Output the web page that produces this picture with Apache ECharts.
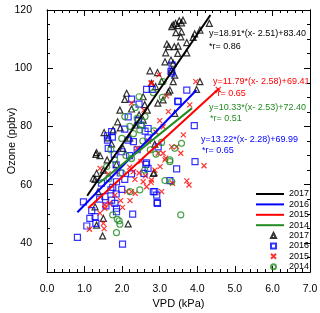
<!DOCTYPE html>
<html><head><meta charset="utf-8">
<script src="https://cdn.jsdelivr.net/npm/echarts@6/dist/echarts.min.js"></script>
<style>html,body{margin:0;padding:0;background:#fff}#c{width:320px;height:313px}</style>
</head><body><div id="c"></div><script>
const FONT = 'Liberation Sans, Arial, Helvetica, sans-serif';
const years = ['2017', '2016', '2015', '2014'];
const yearColors = ['#000000', '#0000ff', '#ff0000', '#228b22'];

// scatter observations [VPD kPa, Ozone ppbv]
const pts2017 = [[3.52,116.3],[3.42,115.4],[3.58,115.6],[3.32,114.3],[3.48,114.6],[3.36,114.9],[3.62,116.5],[3.43,112.2],[3.58,112.5],[3.56,110.8],[3.19,108.3],[3.24,107.4],[3.39,107.4],[3.49,107.6],[3.16,105.3],[3.48,105.1],[3.93,111.8],[3.89,110.6],[4.32,115.4],[4.07,113.1],[3.72,108.8],[3.72,105.3],[3.30,102.8],[3.14,102.2],[3.36,101.7],[2.74,99.1],[2.94,98.5],[3.32,99.4],[3.40,97.6],[3.36,95.4],[3.23,91.9],[2.89,93.7],[4.07,95.4],[3.98,92.7],[3.27,92.5],[2.12,91.4],[2.07,89.3],[1.94,85.6],[2.56,90.2],[2.78,94.8],[2.67,85.6],[3.40,84.5],[3.09,89.1],[1.52,77.9],[1.76,78.8],[1.88,81.6],[1.63,76.1],[1.32,71.0],[1.41,70.0],[1.72,74.0],[1.30,70.4],[2.56,82.2],[2.87,73.9],[2.83,63.9],[1.32,63.9],[1.23,62.2],[1.50,65.0],[1.28,61.8],[1.36,57.6],[1.28,52.4],[1.32,46.1],[1.48,42.4],[2.16,46.5],[2.85,64.1],[1.50,48.4],[2.20,76.0],[2.35,80.5],[2.45,84.0],[2.60,87.5],[2.02,72.5],[1.85,67.0],[1.60,68.5],[2.95,88.0],[3.05,95.5],[1.95,79.5],[2.25,86.0]];
const pts2016 = [[0.97,54.1],[0.81,41.9],[1.06,45.8],[1.19,51.1],[1.14,48.4],[1.28,49.0],[1.30,46.7],[1.57,52.7],[1.72,54.7],[1.81,53.6],[1.85,51.9],[1.85,50.7],[2.28,49.9],[2.01,39.6],[1.54,55.9],[1.84,56.8],[1.99,58.4],[2.07,61.8],[2.25,63.7],[2.58,63.9],[2.65,67.5],[2.87,57.6],[2.93,53.8],[1.75,59.1],[1.84,66.8],[1.72,78.2],[1.63,72.5],[1.79,70.4],[2.07,79.1],[2.16,75.3],[1.99,71.3],[2.30,74.8],[2.61,78.4],[2.69,65.6],[1.70,58.2],[1.85,61.0],[1.61,76.8],[2.43,82.2],[3.48,88.7],[3.92,80.3],[2.69,79.3],[2.69,76.1],[2.96,73.0],[3.94,67.9],[3.45,65.4],[2.63,67.0],[3.27,61.4],[2.83,57.6],[2.92,56.4],[2.94,53.6],[3.30,98.8],[3.72,92.5],[2.65,92.7],[2.80,92.7],[3.33,101.1],[3.32,98.3],[3.49,88.5],[2.25,89.4],[2.45,87.7],[2.16,83.3],[1.74,76.3],[1.61,75.3],[2.20,70.0],[2.40,72.0],[2.50,80.5],[1.95,64.0],[1.45,60.5],[1.40,55.0]];
const pts2015 = [[1.13,44.7],[1.41,50.2],[1.50,46.7],[1.52,44.9],[1.54,53.0],[2.01,52.2],[2.21,54.5],[1.96,54.5],[2.12,57.6],[1.66,53.6],[1.81,56.4],[1.54,51.9],[2.25,57.6],[2.56,61.0],[2.65,59.3],[2.78,61.6],[2.87,65.0],[2.34,61.8],[2.30,64.5],[1.85,64.5],[1.63,63.7],[1.41,65.6],[3.23,85.1],[3.80,87.4],[4.18,66.5],[3.32,73.0],[3.45,73.0],[3.63,77.1],[3.09,79.9],[2.96,70.8],[3.14,68.5],[3.01,66.2],[3.72,61.3],[3.78,59.9],[2.77,60.8],[3.09,70.8],[3.56,70.8],[3.34,60.5],[3.16,69.1],[3.05,57.6],[4.56,92.7],[3.96,95.4],[2.98,97.7],[2.77,94.8],[3.18,90.5],[2.78,95.0],[2.25,88.0],[2.58,85.6],[2.40,72.5],[2.50,68.0],[2.70,75.0],[2.90,78.0],[2.20,66.0],[2.45,64.0],[3.00,82.0],[2.35,57.0],[2.62,63.0]];
const pts2014 = [[1.75,49.6],[1.87,48.1],[1.92,47.6],[1.94,46.4],[1.85,43.5],[2.21,57.6],[2.47,58.2],[3.14,61.4],[3.56,49.6],[3.27,67.9],[3.58,74.2],[3.27,68.5],[3.32,61.0],[2.47,78.8],[1.99,75.9],[1.59,66.2],[2.61,83.4],[2.07,83.4],[2.83,91.6],[3.09,95.4],[3.07,90.0],[2.45,90.2],[2.40,82.8],[2.20,80.0],[2.30,77.5],[2.55,75.0],[2.75,72.0],[2.10,70.0],[1.80,68.5],[1.65,62.0],[2.60,65.0],[2.90,70.5],[3.05,74.5],[2.35,86.5],[2.52,80.5],[1.70,72.0],[2.85,78.5],[3.40,72.5],[2.00,64.0],[2.25,69.0]];

// fitted line end points
const fit2017 = [[1.07,56.2],[4.35,118.3]];
const fit2016 = [[0.81,50.5],[3.98,92.5]];
const fit2015 = [[1.10,52.0],[4.58,93.0]];
const fit2014 = [[1.38,60.5],[3.86,86.3]];

const fitTexts = [
  ['y=18.91*(x- 2.51)+83.40', '*r= 0.86'],
  ['y=13.22*(x- 2.28)+69.99', '*r= 0.65'],
  ['y=11.79*(x- 2.58)+69.41', '*r= 0.65'],
  ['y=10.33*(x- 2.53)+72.40', '*r= 0.51']
];
const yMajor = [40, 60, 80, 100, 120];
const yMinor = [30,35,40,45,50,55,60,65,70,75,80,85,90,95,100,105,110,115,120];

const pts = [pts2017, pts2016, pts2015, pts2014];
const fits = [fit2017, fit2016, fit2015, fit2014];
const symbols = ['triangle', 'rect', 'path://M0,0L10,10M10,0L0,10', 'circle'];
const symSizes = [6, 6, 5, 6];

const chart = echarts.init(document.getElementById('c'), null, {renderer: 'canvas'});

const axisLine = {show: true, onZero: false, lineStyle: {color: '#000', width: 1}};
function xAx(pos, showLabel) {
  return {
    type: 'value', position: pos, min: 0, max: 7, interval: 1,
    axisLine: axisLine,
    axisTick: {show: true, inside: true, length: 6, lineStyle: {color: '#000'}},
    minorTick: {show: true, splitNumber: 5, length: 3, lineStyle: {color: '#000'}},
    splitLine: {show: false}, minorSplitLine: {show: false},
    axisLabel: {show: showLabel, formatter: v => v.toFixed(1), margin: 12, color: '#000', fontSize: 10.5, fontFamily: FONT},
    name: showLabel ? 'VPD (kPa)' : '', nameLocation: 'middle', nameGap: 26, nameMoveOverlap: false,
    nameTextStyle: {color: '#000', fontSize: 11, fontFamily: FONT}
  };
}
function yAx(pos, major, showLabel) {
  return {
    type: 'value', position: pos, min: 30, max: 120, interval: 5,
    axisLine: axisLine,
    axisTick: {show: true, inside: true, length: major ? 6 : 3, customValues: major ? yMajor : yMinor, lineStyle: {color: '#000'}},
    splitLine: {show: false},
    axisLabel: {show: showLabel, customValues: yMajor, margin: 15, color: '#000', fontSize: 10.5, fontFamily: FONT},
    name: showLabel ? 'Ozone (ppbv)' : '', nameLocation: 'middle', nameGap: 30, nameMoveOverlap: false,
    nameTextStyle: {color: '#000', fontSize: 11, fontFamily: FONT}
  };
}

const series = [];
years.forEach((y, i) => {
  series.push({
    name: 'S' + y, type: 'scatter', data: pts[i], symbol: symbols[i], symbolSize: symSizes[i],
    xAxisIndex: 0, yAxisIndex: 0, z: 2,
    itemStyle: {color: i === 2 ? yearColors[i] : 'transparent', borderColor: yearColors[i], borderWidth: 1.2},
    emphasis: {disabled: true}
  });
});
years.forEach((y, i) => {
  series.push({
    name: 'L' + y, type: 'line', data: fits[i], symbol: 'none', z: 3,
    xAxisIndex: 0, yAxisIndex: 0,
    lineStyle: {color: yearColors[i], width: 2},
    itemStyle: {color: yearColors[i]},
    emphasis: {disabled: true}
  });
});

const textPos = [[209, 34, 209, 47], [201, 140, 202, 151], [213, 82, 214, 94], [209, 108, 210, 119]];
const graphics = [];
fitTexts.forEach((t, i) => {
  const p = textPos[i];
  graphics.push({type: 'text', x: p[0], y: p[1], style: {text: t[0], fill: yearColors[i], font: '9px ' + FONT, textVerticalAlign: 'middle'}});
  graphics.push({type: 'text', x: p[2], y: p[3], style: {text: t[1], fill: yearColors[i], font: '9px ' + FONT, textVerticalAlign: 'middle'}});
});

const legendText = {color: '#000', fontSize: 9, fontFamily: FONT, lineHeight: 10};
chart.setOption({
  animation: false,
  grid: {left: 47, right: 10, top: 10, bottom: 41, containLabel: false, outerBoundsMode: 'none'},
  xAxis: [xAx('bottom', true), xAx('top', false)],
  yAxis: [yAx('left', true, true), yAx('left', false, false), yAx('right', true, false), yAx('right', false, false)],
  legend: [{
    orient: 'vertical', left: 256, top: 189, padding: 0, itemWidth: 28, itemHeight: 2, itemGap: 0.4,
    icon: 'rect',
    data: years.map(y => 'L' + y),
    formatter: n => n.slice(1),
    textStyle: legendText,
    selectedMode: false
  }, {
    orient: 'vertical', left: 270, top: 230.5, padding: 0, itemWidth: 5, itemHeight: 5, itemGap: 0.4,
    data: years.map(y => 'S' + y),
    formatter: n => n.slice(1),
    textStyle: Object.assign({padding: [0, 0, 0, 8]}, legendText),
    selectedMode: false
  }],
  graphic: graphics,
  series: series
});
</script></body></html>
